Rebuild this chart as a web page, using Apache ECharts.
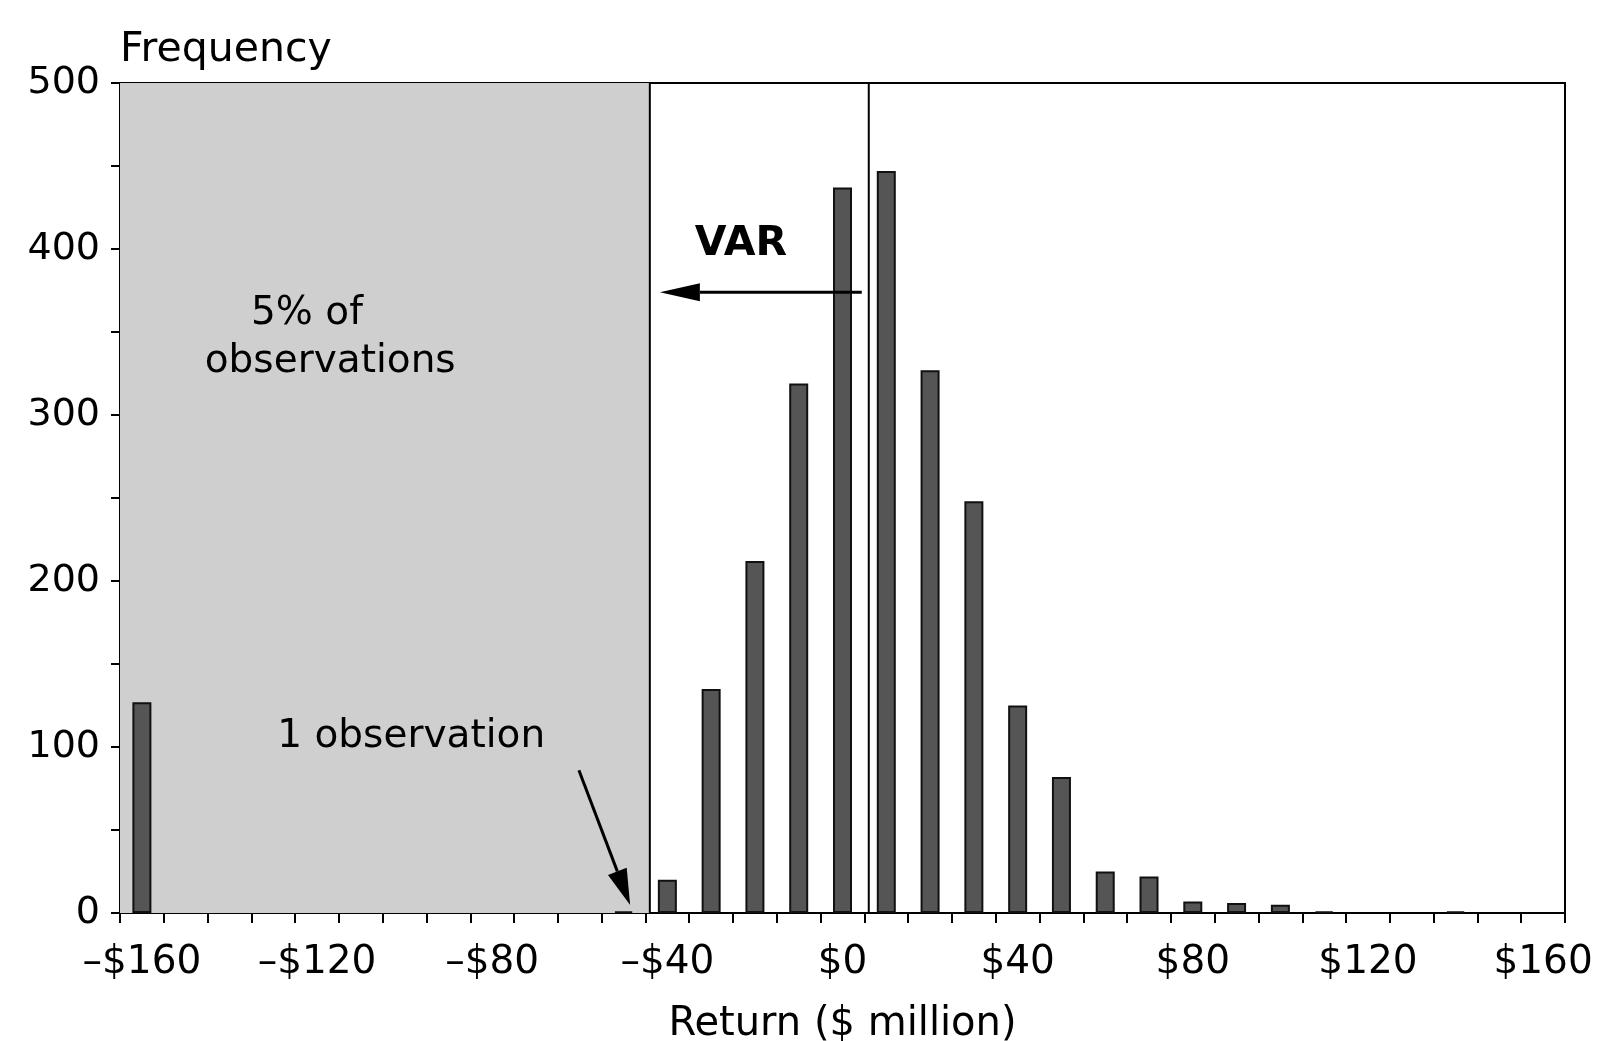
<!DOCTYPE html>
<html>
<head>
<meta charset="utf-8">
<script src="https://cdn.jsdelivr.net/npm/echarts@6/dist/echarts.min.js"></script>
<style>
  html, body { margin: 0; padding: 0; background: #ffffff; }
  #chart { width: 1599px; height: 1041px; }
</style>
</head>
<body>
<div id="chart"></div>
<script>
// ---- data ----
const binCenters = [-160,-150,-140,-130,-120,-110,-100,-90,-80,-70,-60,-50,-40,-30,-20,-10,0,10,20,30,40,50,60,70,80,90,100,110,120,130,140,150,160];
const frequencies = [127,0,0,0,0,0,0,0,0,0,0,1,20,135,212,319,437,447,327,248,125,82,25,22,7,6,5,1,0,0,1,0,0];
const xLabelValues = [-160,-120,-80,-40,0,40,80,120,160];
const xLabelTexts = ['\u2013$160','\u2013$120','\u2013$80','\u2013$40','$0','$40','$80','$120','$160'];
const yLabelValues = [0,100,200,300,400,500];
const varCutoff = -44;      // left edge of VAR (5% tail)
const centerLine = 6;       // reference line near the mean
const annotationTexts = ['VAR','5% of','observations','1 observation'];
const arrowSegments = [[4.4,374,-41.7,374],[-60.2,86,-48.5,4.8]];

// annotation anchors in data units (x on the value axis, y = frequency)
const annotationAnchors = [[-23.2,403],[-122.3,361],[-117,332],[-98.5,106]];
const annotationBold = [true,false,false,false];

const FONT = '"DejaVu Sans", "Liberation Sans", Arial, sans-serif';
const chart = echarts.init(document.getElementById('chart'), null, {renderer:'canvas'});

const option = {
  backgroundColor: '#ffffff',
  animation: false,
  grid: { left: 120, right: 34, top: 83, bottom: 128, containLabel: false, outerBoundsMode: 'none', show: true, borderColor: '#000', borderWidth: 2, backgroundColor: 'transparent' },
  xAxis: [
    {
      type: 'category',
      data: binCenters,
      boundaryGap: true,
      name: 'Return ($ million)',
      nameLocation: 'middle',
      nameGap: 92,
      nameTextStyle: { fontFamily: FONT, fontSize: 40, color: '#000' },
      axisLine: { onZero: false, lineStyle: { color: '#000', width: 2 } },
      axisTick: { show: true, interval: 0, length: 10, alignWithLabel: false, lineStyle: { color: '#000', width: 2 } },
      axisLabel: {
        interval: (idx, val) => xLabelValues.indexOf(Number(val)) >= 0,
        formatter: (val) => { const i = xLabelValues.indexOf(Number(val)); return i >= 0 ? xLabelTexts[i] : ''; },
        fontFamily: FONT, fontSize: 39, color: '#000', margin: 30
      },
      splitLine: { show: false }
    },
    { type: 'value', min: -165, max: 165, show: false, axisLine: { onZero: false } }
  ],
  yAxis: {
    type: 'value', min: 0, max: 500, interval: 50,
    name: 'Frequency',
    nameLocation: 'end',
    nameGap: 12,
    nameTextStyle: { fontFamily: FONT, fontSize: 41, color: '#000', align: 'left' },
    axisLine: { show: true, onZero: false, lineStyle: { color: '#000', width: 2 } },
    axisTick: { show: true, length: 9, lineStyle: { color: '#000', width: 2 } },
    axisLabel: {
      formatter: (v) => yLabelValues.indexOf(v) >= 0 ? String(v) : '',
      fontFamily: FONT, fontSize: 38, color: '#000', margin: 20
    },
    splitLine: { show: false }
  },
  series: [
    {
      type: 'custom', name: 'tail', xAxisIndex: 1, yAxisIndex: 0, z: 1, clip: false, silent: true,
      data: [[-165, varCutoff]],
      renderItem: (params, api) => {
        const p0 = api.coord([api.value(0), 500]);
        const p1 = api.coord([api.value(1), 0]);
        return { type: 'rect', shape: { x: p0[0], y: p0[1], width: p1[0]-p0[0], height: p1[1]-p0[1] }, style: { fill: '#cfcfcf' } };
      }
    },
    {
      type: 'bar', name: 'Frequency', xAxisIndex: 0, yAxisIndex: 0, z: 2,
      data: frequencies.map(v => (v === 0 ? null : v)), barWidth: 19,
      itemStyle: { color: '#555555', borderColor: '#111', borderWidth: 2 }
    },
    {
      type: 'custom', name: 'lines', xAxisIndex: 1, yAxisIndex: 0, z: 3, clip: false, silent: true,
      data: [[varCutoff], [centerLine]],
      renderItem: (params, api) => {
        const a = api.coord([api.value(0), 0]);
        const b = api.coord([api.value(0), 500]);
        return { type: 'line', shape: { x1: a[0], y1: a[1], x2: b[0], y2: b[1] }, style: { stroke: '#000', lineWidth: 2 } };
      }
    },
    {
      type: 'custom', name: 'arrows', xAxisIndex: 1, yAxisIndex: 0, z: 4, clip: false, silent: true,
      data: arrowSegments,
      encode: { x: [0, 2], y: [1, 3] },
      renderItem: (params, api) => {
        const s = api.coord([api.value(0), api.value(1)]);
        const t = api.coord([api.value(2), api.value(3)]);
        const dx = t[0]-s[0], dy = t[1]-s[1];
        const len = Math.sqrt(dx*dx+dy*dy);
        const ux = dx/len, uy = dy/len;
        const headL = params.dataIndex === 0 ? 40 : 36;
        const headW = params.dataIndex === 0 ? 9 : 10;
        const bx = t[0]-ux*headL, by = t[1]-uy*headL;
        return {
          type: 'group',
          children: [
            { type: 'line', shape: { x1: s[0], y1: s[1], x2: bx, y2: by }, style: { stroke: '#000', lineWidth: 3 } },
            { type: 'polygon', shape: { points: [[t[0], t[1]], [bx - uy*headW, by + ux*headW], [bx + uy*headW, by - ux*headW]] }, style: { fill: '#000' } }
          ]
        };
      }
    },
    {
      type: 'custom', name: 'notes', xAxisIndex: 1, yAxisIndex: 0, z: 5, clip: false, silent: true,
      data: annotationAnchors,
      renderItem: (params, api) => {
        const p = api.coord([api.value(0), api.value(1)]);
        const i = params.dataIndex;
        return {
          type: 'text', x: p[0], y: p[1],
          style: {
            text: annotationTexts[i],
            fill: '#000',
            font: (annotationBold[i] ? 'bold 41px ' : '39px ') + FONT,
            textAlign: 'center', textVerticalAlign: 'middle'
          }
        };
      }
    }
  ]
};
chart.setOption(option);
</script>
</body>
</html>
